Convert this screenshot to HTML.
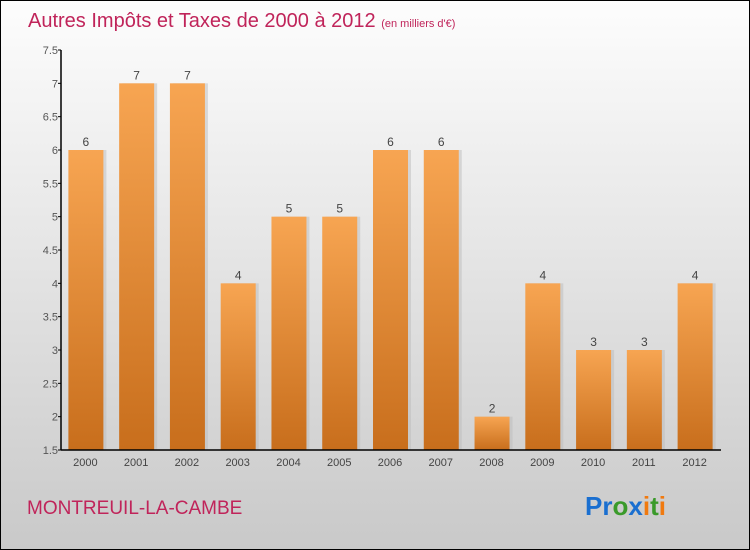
<!DOCTYPE html>
<html><head><meta charset="utf-8"><style>
body{margin:0;}
#c{position:relative;width:748px;height:548px;border:1px solid #000;background:linear-gradient(#fdfdfd,#c9c9c9);font-family:"Liberation Sans",sans-serif;overflow:hidden}
</style></head><body>
<div id="c">
<svg width="748" height="548">
<defs><linearGradient id="bg" x1="0" y1="0" x2="0" y2="1"><stop offset="0" stop-color="#f7a552"/><stop offset="1" stop-color="#c86e1c"/></linearGradient></defs>
<text x="27" y="26" font-size="20" fill="#c0245a">Autres Impôts et Taxes de 2000 à 2012 <tspan font-size="11">(en milliers d'€)</tspan></text>
<g id="plot"></g>
<text x="26" y="513" font-size="19" fill="#c0245a">MONTREUIL-LA-CAMBE</text>
<text x="584" y="514" font-size="26" font-weight="bold"><tspan fill="#1a6fd0">Pr</tspan><tspan fill="#3a9a2a">o</tspan><tspan fill="#1a6fd0">x</tspan><tspan fill="#f07a10">i</tspan><tspan fill="#3a9a2a">t</tspan><tspan fill="#f07a10">i</tspan></text>
</svg></div>
<script>
const categories=["2000","2001","2002","2003","2004","2005","2006","2007","2008","2009","2010","2011","2012"];
const values=[6,7,7,4,5,5,6,6,2,4,3,3,4];
const yTicks=[1.5,2,2.5,3,3.5,4,4.5,5,5.5,6,6.5,7,7.5];
const ns="http://www.w3.org/2000/svg";
const g=document.getElementById('plot');
const L=60,R=720,T=49,B=449,ymin=1.5,ymax=7.5;
const y=v=>B-(v-ymin)/(ymax-ymin)*(B-T);
const bw=(R-L)/categories.length;
const x=i=>L+bw*i+bw/2;
function mk(t,a,txt){const e=document.createElementNS(ns,t);for(const k in a)e.setAttribute(k,a[k]);if(txt!==undefined)e.textContent=txt;g.appendChild(e);return e;}
values.forEach((v,i)=>{
 const r=mk('rect',{x:x(i)-18+2,y:y(v),width:35,height:B-y(v),fill:'#bbb',opacity:0.5,transform:'translate(1,0)'});
 
 
 const b=mk('rect',{x:x(i)-18,y:y(v),width:35,height:B-y(v),fill:'url(#bg)'});
 
 
 const t=mk('text',{x:x(i)-0.5,y:y(v)-4,'font-size':12,fill:'#444','text-anchor':'middle'},String(v));
 
 
 const c=mk('text',{x:x(i)-1,y:B+16,'font-size':11,fill:'#444','text-anchor':'middle'},categories[i]);
 
 
});
yTicks.forEach(v=>{
 const l=mk('line',{x1:L-3,x2:L,y1:y(v),y2:y(v),stroke:'#000'});
 
 
 const t=mk('text',{x:L-3,y:y(v)+4,'font-size':11,fill:'#555','text-anchor':'end'},String(v));
 
 
});
const ya=mk('line',{x1:L,x2:L,y1:T,y2:B,stroke:'#000','stroke-width':1.5});


const xa=mk('line',{x1:L,x2:R,y1:B,y2:B,stroke:'#000','stroke-width':1.5});


</script>
</body></html>
